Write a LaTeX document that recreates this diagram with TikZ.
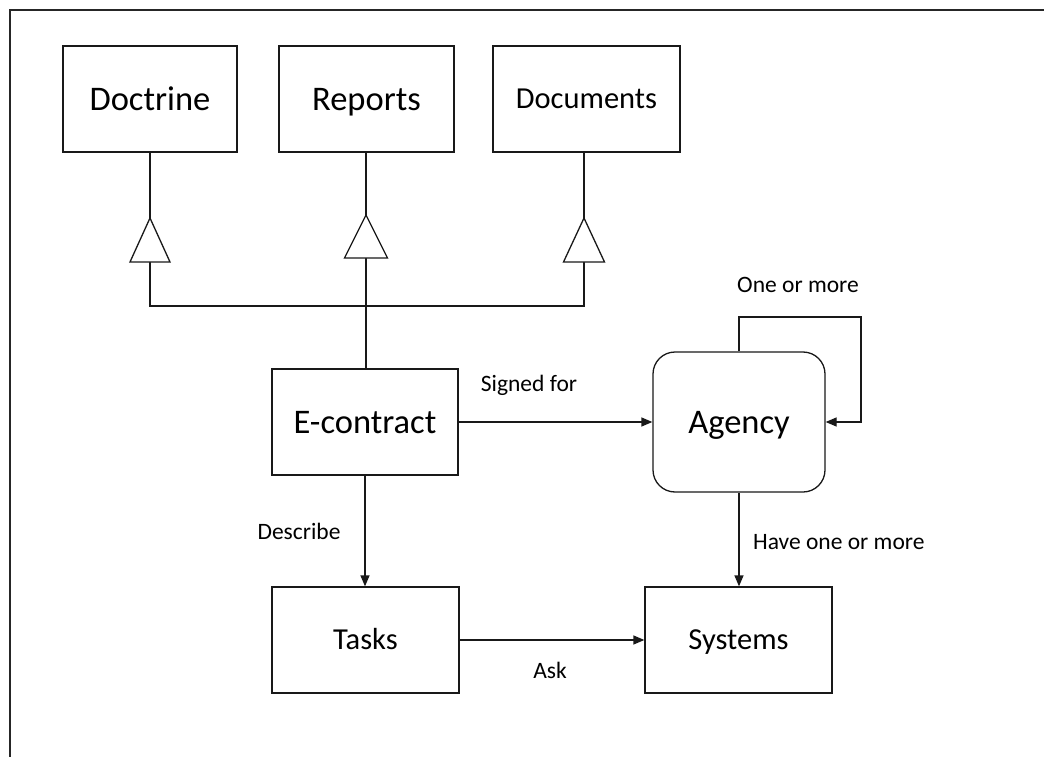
\documentclass[tikz,border=0pt]{standalone}
\usepackage{fontspec}
\setmainfont{Carlito}
\usetikzlibrary{arrows.meta}
\begin{document}
\begin{tikzpicture}[x=1pt,y=-1pt,
  ln/.style={line width=1.3pt, draw=black!90},
  box/.style={ln, draw, inner sep=0pt, minimum height=106pt},
  big/.style={font=\fontsize{34.5}{40}\selectfont, text height=22.2pt, text depth=0pt},
  mid/.style={font=\fontsize{30.5}{36}\selectfont, text height=19.6pt, text depth=0pt},
  lbl/.style={font=\fontsize{23.5}{28}\selectfont, inner sep=0pt, text height=15.1pt, text depth=0pt},
  arr/.style={ln, -{Triangle[length=11pt,width=9pt]}},
  tri/.style={ln, fill=white, line join=miter}]
\useasboundingbox (0,0) rectangle (1044,757);
\draw[line width=2pt, black!85] (10,757) -- (10,10) -- (1044,10);

\node[box, big, minimum width=174pt] (doct) at (150,99) {Doctrine};
\node[box, big, minimum width=175pt] (rep) at (366.5,99) {Reports};
\node[box, mid, minimum width=187pt] (docs) at (586.5,99) {Documents};
\node[box, big, minimum width=186pt] (econ) at (365,422) {E-contract};
\node[box, mid, minimum width=187pt] (tasks) at (365.5,640) {Tasks};
\node[box, mid, minimum width=187pt] (sys) at (738.5,640) {Systems};
\node[box, big, minimum width=172pt, minimum height=140pt, rounded corners=22pt] (agency) at (739,422) {Agency};

% generalization triangles
\coordinate (ta1) at (150,218);
\coordinate (tb1) at (150,262);
\coordinate (ta2) at (366,215);
\coordinate (tb2) at (366,258);
\coordinate (ta3) at (584,218);
\coordinate (tb3) at (584,262);
\coordinate (bus1) at (150,306);
\coordinate (bus3) at (584,306);

\draw[ln] (doct.south) -- (ta1);
\draw[ln] (rep.south -| ta2) -- (ta2);
\draw[ln] (docs.south -| ta3) -- (ta3);
\draw[ln] (tb1) -- (bus1) -- (bus3) -- (tb3);
\draw[ln] (econ.north -| tb2) -- (tb2);

\draw[tri] (ta1) -- ++(-20,44) -- ++(40,0) -- cycle;
\draw[tri] (ta2) -- ++(-21.5,43) -- ++(43,0) -- cycle;
\draw[tri] (ta3) -- ++(-20.5,44) -- ++(41,0) -- cycle;

% arrows
\draw[arr] (econ.east) -- (agency.west);
\draw[arr] (econ.south) -- (econ.south |- tasks.north);
\draw[arr] (tasks.east) -- (sys.west);
\draw[arr] (agency.south) -- (agency.south |- sys.north);
\coordinate (lp) at (861,317);
\draw[arr] (agency.north) |- (lp) |- (agency.east);

% labels
\node[lbl] (l1) at (529,384) {Signed for};
\node[lbl] (l2) at (299,531.5) {Describe};
\node[lbl] (l3) at (550,671) {Ask};
\node[lbl, anchor=west] (l4) at (753,541.5) {Have one or more};
\node[lbl] (l5) at (798,285) {One or more};
\end{tikzpicture}
\end{document}
